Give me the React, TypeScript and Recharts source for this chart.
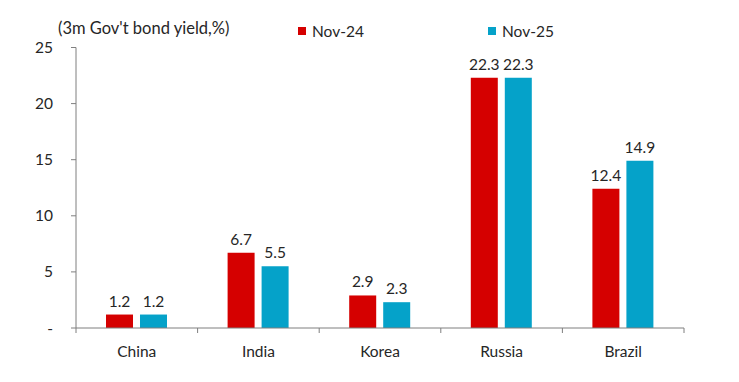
import React from "react";
import { BarChart, Bar, XAxis, YAxis, LabelList } from "recharts";

const categories = ["China", "India", "Korea", "Russia", "Brazil"];
const nov24 = [1.2, 6.7, 2.9, 22.3, 12.4];
const nov25 = [1.2, 5.5, 2.3, 22.3, 14.9];
const yTicks = [0, 5, 10, 15, 20, 25];
const seriesNames = ["Nov-24", "Nov-25"];
const title = "(3m Gov't bond yield,%)";

const RED = "#D50000";
const CYAN = "#05A2C9";
const TEXT = "#262626";
const AXIS = "#7F7F7F";
const FONT = "Lato, 'Open Sans', sans-serif";

const data = categories.map((c, i) => ({ name: c, nov24: nov24[i], nov25: nov25[i] }));

const CatTick = (props: any) => {
  const { x, y, payload, index, visibleTicksCount } = props;
  const off = payload.offset || 0;
  const axisY = y - 18;
  const last = index === (visibleTicksCount ?? categories.length) - 1;
  return (
    <g>
      <line x1={x - off} x2={x - off} y1={axisY} y2={axisY + 5} stroke={AXIS} strokeWidth={1} />
      {last && <line x1={x + off} x2={x + off} y1={axisY} y2={axisY + 5} stroke={AXIS} strokeWidth={1} />}
      <text x={x} y={y} dy={11} textAnchor="middle" fill={TEXT} fontSize={15.5} fontFamily={FONT}>
        {payload.value}
      </text>
    </g>
  );
};

const colors = [RED, CYAN];
const legendLefts = [298, 488];

export default function App() {
  return (
    <div style={{ position: "absolute", left: 0, top: 0, width: 739, height: 382, background: "#fff" }}>
      <div
        style={{
          position: "absolute",
          left: 58,
          top: 18,
          fontFamily: FONT,
          fontSize: 16.5,
          color: TEXT,
          whiteSpace: "nowrap",
        }}
      >
        {title}
      </div>
      {seriesNames.map((n, i) => (
        <div
          key={n}
          style={{
            position: "absolute",
            left: legendLefts[i],
            top: 22,
            display: "flex",
            alignItems: "center",
            fontFamily: FONT,
            fontSize: 15.5,
            color: TEXT,
            whiteSpace: "nowrap",
          }}
        >
          <span style={{ display: "inline-block", width: 8, height: 8, background: colors[i], marginRight: 6 }} />
          <span>{n}</span>
        </div>
      ))}
      <BarChart
        width={739}
        height={382}
        data={data}
        margin={{ top: 47.5, right: 55, bottom: 24, left: 0 }}
        barGap={7}
        barSize={27}
      >
        <XAxis
          dataKey="name"
          axisLine={{ stroke: AXIS }}
          tickLine={false}
          tickSize={0}
          tickMargin={18}
          height={30}
          tick={<CatTick />}
          interval={0}
        />
        <YAxis
          domain={[0, 25]}
          ticks={yTicks}
          width={76}
          axisLine={{ stroke: AXIS }}
          tickLine={{ stroke: AXIS }}
          tickSize={5}
          tickMargin={18}
          tick={{ fill: TEXT, fontSize: 15.5, fontFamily: FONT }}
          tickFormatter={(v: number) => (v === 0 ? "-" : String(v))}
          interval={0}
        />
        <Bar dataKey="nov24" name={seriesNames[0]} fill={RED} isAnimationActive={false}>
          <LabelList dataKey="nov24" position="top" offset={8} fill={TEXT} fontSize={15.5} fontFamily={FONT} />
        </Bar>
        <Bar dataKey="nov25" name={seriesNames[1]} fill={CYAN} isAnimationActive={false}>
          <LabelList dataKey="nov25" position="top" offset={8} fill={TEXT} fontSize={15.5} fontFamily={FONT} />
        </Bar>
      </BarChart>
    </div>
  );
}
